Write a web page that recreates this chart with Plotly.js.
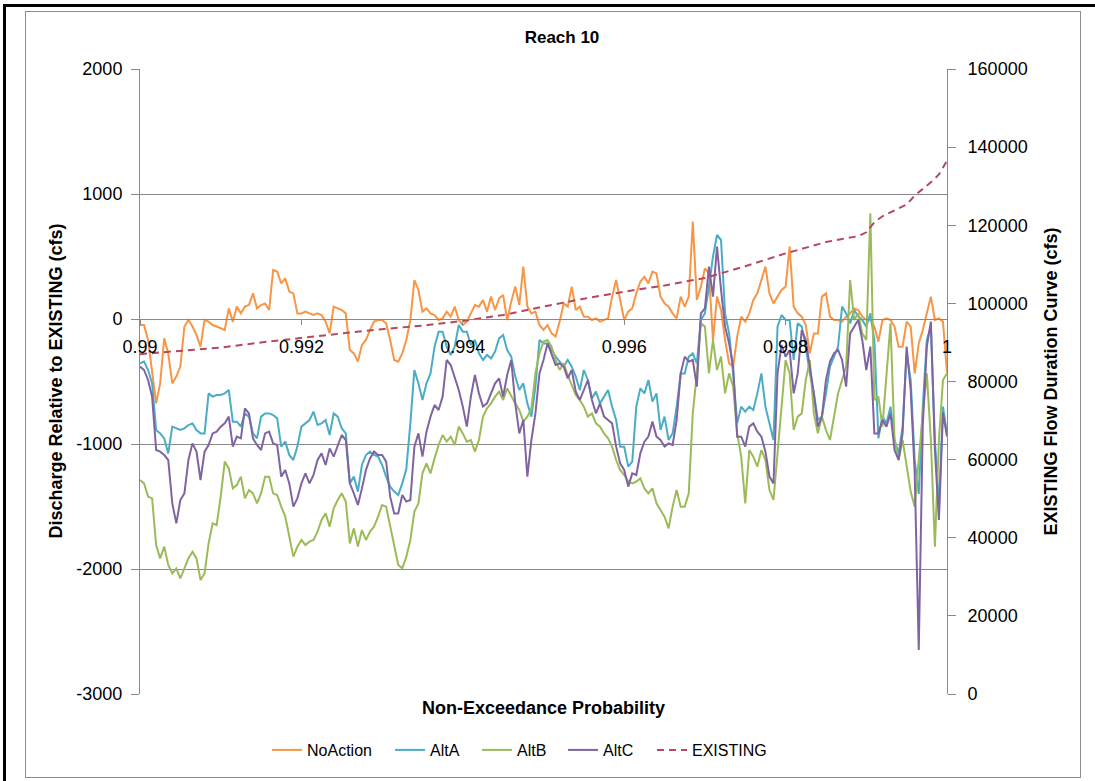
<!DOCTYPE html>
<html>
<head>
<meta charset="utf-8">
<script src="https://cdn.plot.ly/plotly-3.0.1.min.js"></script>
<style>
  html, body { margin: 0; padding: 0; background: #ffffff; }
  #wrap { position: relative; width: 1095px; height: 781px; overflow: hidden; }
  #chart { position: absolute; left: 0; top: 0; width: 1095px; height: 781px; }
  .frame { position: absolute; pointer-events: none; }
</style>
</head>
<body>
<div id="wrap">
  <div id="chart"></div>
  <div class="frame" style="left:25px; top:11px; width:1054px; height:765px; border:1px solid #8c8c8c;"></div>
  <div class="frame" style="left:3px; top:4px; width:1092px; height:3px; background:#000;"></div>
  <div class="frame" style="left:3px; top:4px; width:3px; height:777px; background:#000;"></div>
</div>
<script>
// ---- chart data ----
const chartTitle = "Reach 10";
const seriesNames = ["NoAction", "AltA", "AltB", "AltC", "EXISTING"];

// probability grid of the difference series: 0.99 .. 1.0
const probStart = 0.99;
const probStep = 0.00005;

const noAction = [
  -48,-48,-168,-435,-675,-515,-155,-275,-515,-460,
  -380,-60,-8,-60,-128,-221,-8,-21,-48,-60,
  -75,-88,85,-21,99,45,99,112,205,85,
  112,125,72,392,379,285,325,219,205,45,
  45,59,45,32,45,32,-21,-115,99,85,
  72,45,-248,-275,-341,-208,-168,-88,-21,-8,
  -8,-35,-168,-328,-341,-275,-168,-8,312,232,
  59,85,45,32,-8,5,59,19,99,-8,
  -48,-21,45,112,99,152,59,179,72,165,
  192,-8,139,259,112,419,99,45,59,-48,
  -88,-48,-115,-141,-21,125,99,259,72,99,
  19,19,-8,5,-21,-8,5,179,312,152,
  -8,59,85,205,299,339,285,379,365,179,
  125,99,45,5,179,99,179,780,152,259,
  405,365,-168,179,72,-168,-355,-381,-141,19,
  -21,45,152,205,312,419,205,125,179,232,
  259,579,99,45,19,-48,-275,-115,-115,179,
  205,19,-8,-8,-21,19,45,85,72,19,
  -8,-8,-61,-181,-8,5,-8,-61,-221,-221,
  -21,-61,-435,-195,-88,45,179,-8,5,-21,
  -430
];

const altA = [
  -355,-341,-408,-515,-888,-915,-955,-1075,-861,-875,
  -888,-875,-848,-835,-888,-915,-915,-595,-621,-608,
  -608,-595,-568,-821,-821,-861,-755,-781,-915,-955,
  -781,-755,-755,-768,-795,-1021,-981,-1088,-1128,-1021,
  -861,-835,-808,-741,-848,-835,-808,-928,-755,-781,
  -875,-915,-1315,-1261,-1381,-1168,-1088,-1061,-1088,-1101,
  -1168,-1261,-1341,-1381,-1408,-1315,-1200,-835,-408,-515,
  -648,-515,-435,-221,-101,-101,-221,-288,-221,-48,
  -101,-101,-208,-168,-275,-328,-288,-315,-261,-155,
  -128,-248,-301,-461,-568,-515,-675,-781,-541,-168,
  -195,-195,-248,-301,-341,-381,-328,-381,-461,-568,
  -408,-488,-635,-581,-675,-621,-568,-701,-808,-1021,
  -1021,-1181,-1141,-701,-555,-595,-488,-661,-595,-888,
  -781,-968,-915,-701,-435,-435,-301,-275,-355,-8,
  45,259,499,672,632,45,-115,-435,-835,-701,
  -741,-701,-728,-595,-435,-701,-835,-968,-61,32,
  -8,-8,-328,-35,-61,-221,-435,-595,-808,-781,
  -595,-381,-301,-221,99,45,-35,72,19,-8,
  -61,45,-168,-955,-781,-835,-701,-968,-1075,-861,
  -275,-488,-1128,-1400,-701,-168,-61,-968,-1501,-701,
  -915
];

const altB = [
  -1288,-1315,-1421,-1435,-1808,-1915,-1821,-1968,-2035,-1995,
  -2075,-1995,-1915,-1861,-1915,-2088,-2035,-1795,-1635,-1648,
  -1420,-1141,-1195,-1355,-1328,-1261,-1435,-1368,-1395,-1475,
  -1395,-1261,-1261,-1395,-1408,-1501,-1581,-1741,-1901,-1821,
  -1768,-1808,-1781,-1768,-1701,-1608,-1555,-1661,-1515,-1448,
  -1395,-1461,-1795,-1675,-1821,-1688,-1768,-1701,-1661,-1581,
  -1488,-1501,-1661,-1821,-1968,-1995,-1901,-1768,-1541,-1475,
  -1235,-1155,-1235,-1115,-1008,-928,-981,-941,-1008,-861,
  -915,-981,-968,-1061,-968,-781,-715,-675,-621,-581,
  -648,-555,-621,-675,-728,-821,-781,-715,-435,-275,
  -181,-168,-221,-328,-408,-355,-448,-528,-608,-648,
  -701,-781,-755,-835,-861,-915,-955,-1021,-1128,-1208,
  -1248,-1301,-1315,-1301,-1275,-1355,-1395,-1355,-1475,-1528,
  -1581,-1675,-1501,-1368,-1501,-1501,-1395,-755,-435,-35,
  -61,-435,-168,-408,-301,-595,-435,-541,-915,-1101,
  -1475,-1048,-1101,-1181,-1048,-1128,-1368,-1448,-1075,-648,
  -328,-435,-888,-781,-755,-488,-328,-755,-915,-781,
  -888,-968,-781,-595,-488,-381,312,-8,45,-115,
  -168,845,-648,-621,-861,-435,-35,-968,-1128,-968,
  -1181,-1381,-1501,-1101,-755,-435,-968,-1821,-968,-488,
  -435
];

const altC = [
  -381,-408,-488,-621,-1048,-1061,-1088,-1128,-1475,-1635,
  -1448,-1395,-1128,-995,-1061,-1288,-1061,-1008,-915,-901,
  -861,-835,-781,-1021,-941,-955,-715,-755,-955,-1008,
  -1048,-915,-901,-995,-1008,-1261,-1208,-1315,-1501,-1435,
  -1315,-1235,-1315,-1248,-1128,-1075,-1168,-1035,-1101,-1021,
  -928,-968,-1315,-1395,-1488,-1355,-1208,-1115,-1061,-1088,
  -1088,-1141,-1421,-1555,-1555,-1408,-1461,-1448,-1021,-915,
  -1101,-901,-781,-688,-728,-621,-328,-368,-475,-568,
  -701,-861,-621,-448,-595,-701,-675,-595,-515,-475,
  -621,-448,-328,-675,-915,-808,-1261,-968,-755,-435,
  -328,-195,-275,-368,-355,-381,-475,-408,-581,-648,
  -568,-488,-648,-755,-675,-781,-808,-835,-1021,-1155,
  -1208,-1341,-1235,-1248,-1075,-981,-941,-821,-941,-968,
  -1021,-995,-1008,-808,-435,-301,-341,-328,-541,45,
  85,419,179,579,232,-61,-195,-381,-941,-941,
  -1021,-861,-835,-901,-941,-1061,-1261,-1315,-435,-208,
  -301,-248,-595,-435,-88,-168,-381,-595,-861,-781,
  -488,-341,-275,-248,-328,-541,-115,-61,-8,-168,
  -408,-221,-915,-915,-808,-861,-755,-1048,-1128,-915,
  -221,-568,-1235,-2648,-848,-221,-21,-1048,-1608,-750,
  -940
];

// EXISTING flow duration curve (right axis, cfs)
const existingProb = [
  0.990,0.9905,0.991,0.9915,0.992,0.9925,0.993,0.9935,0.994,0.9945,
  0.995,0.9955,0.996,0.9965,0.997,0.9975,0.998,0.9985,0.9987,0.9989,
  0.9990,0.9991,0.9992,0.9993,0.9994,0.9995,0.9996,0.9997,0.9998,0.9999,1.0
];
const existingFlow = [
  87000,87800,88700,90000,91200,92300,93400,94300,95500,97000,
  99200,101200,103000,104600,106500,109500,112800,115700,116500,117200,
  118200,120800,122300,123300,124300,125300,127600,129300,131000,133000,136500
];

const xTickVals = [0.99, 0.992, 0.994, 0.996, 0.998, 1];
const xTickText = ["0.99", "0.992", "0.994", "0.996", "0.998", "1"];
const yTickVals = [-3000, -2000, -1000, 0, 1000, 2000];
const yTickText = ["-3000", "-2000", "-1000", "0", "1000", "2000"];
const y2TickVals = [0, 20000, 40000, 60000, 80000, 100000, 120000, 140000, 160000];
const y2TickText = ["0", "20000", "40000", "60000", "80000", "100000", "120000", "140000", "160000"];

const xTitle = "Non-Exceedance Probability";
const yTitle = "Discharge Relative to EXISTING (cfs)";
const y2Title = "EXISTING Flow Duration Curve (cfs)";

// ---- build ----
const probs = noAction.map((_, i) => +(probStart + i * probStep).toFixed(6));
const colors = ["#F79646", "#4BACC6", "#9BBB59", "#8064A2", "#B8475E"];
const grid = "#8a8a8a";
const FONT = "'Liberation Sans', Arial, sans-serif";
const legendIds = ["legend", "legend2", "legend3", "legend4", "legend5"];
// legend entry text left edges in the reference (page px)
const legendTextLeft = [307, 430, 517, 603, 692];

const lineSeries = [noAction, altA, altB, altC];
const traces = lineSeries.map((vals, k) => ({
  type: "scatter", mode: "lines", name: seriesNames[k],
  x: probs, y: vals, xaxis: "x", yaxis: "y", legend: legendIds[k],
  line: { color: colors[k], width: 2 },
  hoverinfo: "skip"
}));
traces.push({
  type: "scatter", mode: "lines", name: seriesNames[4],
  x: existingProb, y: existingFlow, xaxis: "x", yaxis: "y2", legend: legendIds[4],
  line: { color: colors[4], width: 2, dash: "7px,5px" },
  hoverinfo: "skip"
});

const layout = {
  width: 1095, height: 781,
  margin: { l: 140, r: 148, t: 69, b: 87, pad: 0 },
  paper_bgcolor: "#ffffff", plot_bgcolor: "#ffffff",
  font: { family: FONT, color: "#000000", size: 16 },
  showlegend: true,
  title: {
    text: "<b>" + chartTitle + "</b>", font: { family: FONT, size: 17, color: "#000" },
    x: 562 / 1095, xanchor: "center", y: 1 - 37 / 781, yanchor: "middle", xref: "container", yref: "container"
  },
  xaxis: {
    range: [0.99, 1], tickvals: xTickVals, ticktext: xTickText,
    anchor: "free", position: 0.6,
    showline: true, linecolor: grid, linewidth: 1,
    ticks: "outside", ticklen: 5, tickcolor: grid, tickwidth: 1,
    showgrid: false, zeroline: false,
    tickfont: { family: FONT, size: 18, color: "#000" }, ticklabelstandoff: 6,
    fixedrange: true
  },
  yaxis: {
    range: [-3000, 2000], tickvals: yTickVals, ticktext: yTickText,
    showgrid: true, gridcolor: grid, gridwidth: 1, zeroline: false,
    showline: true, linecolor: grid, linewidth: 1,
    ticks: "outside", ticklen: 8, tickcolor: grid,
    tickfont: { family: FONT, size: 18, color: "#000" }, ticklabelstandoff: 5,
    mirror: false, fixedrange: true
  },
  yaxis2: {
    range: [0, 160000], tickvals: y2TickVals, ticktext: y2TickText,
    overlaying: "y", side: "right", anchor: "x",
    showgrid: false, zeroline: false,
    showline: true, linecolor: grid, linewidth: 1,
    ticks: "outside", ticklen: 8, tickcolor: grid,
    tickfont: { family: FONT, size: 18, color: "#000" }, ticklabelstandoff: 8,
    fixedrange: true
  },
  annotations: [
    { text: "<b>" + xTitle + "</b>", xref: "paper", yref: "paper", x: 0.5, y: -0.0224,
      xanchor: "center", yanchor: "middle", showarrow: false, font: { family: FONT, size: 18, color: "#000" } },
    { text: "<b>" + yTitle + "</b>", xref: "paper", yref: "paper", x: (55 - 140) / 807, y: 0.5,
      xanchor: "center", yanchor: "middle", textangle: -90, showarrow: false, font: { family: FONT, size: 18, color: "#000" } },
    { text: "<b>" + y2Title + "</b>", xref: "paper", yref: "paper", x: (1050 - 140) / 807, y: 0.5,
      xanchor: "center", yanchor: "middle", textangle: -90, showarrow: false, font: { family: FONT, size: 18, color: "#000" } }
  ]
};

legendIds.forEach((id, k) => {
  layout[id] = {
    orientation: "h", x: (legendTextLeft[k] - 40 - 140) / 807, xanchor: "left",
    y: -0.0896, yanchor: "middle", borderwidth: 0,
    font: { family: FONT, size: 16, color: "#000" }, bgcolor: "rgba(0,0,0,0)"
  };
});

Plotly.newPlot("chart", traces, layout, { staticPlot: true, displayModeBar: false });
</script>
</body>
</html>
